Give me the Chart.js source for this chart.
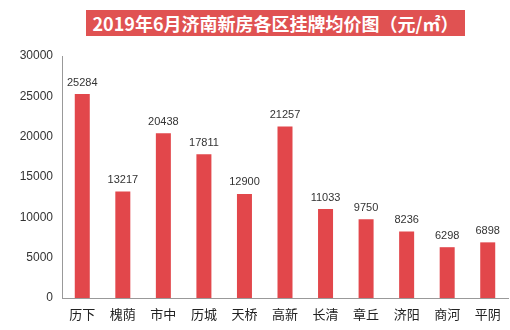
<!DOCTYPE html>
<html>
<head>
<meta charset="utf-8">
<script src="https://cdn.jsdelivr.net/npm/chart.js@4"></script>
<style>
    body { margin: 0; background: #fff; }
    #wrap { position: relative; width: 510px; height: 330px; }
    #title {
        position: absolute; left: 86px; top: 10px; width: 379px; height: 26px;
        background: #e05252; color: #fff; text-align: center;
        font: bold 18px "Noto Sans CJK SC", sans-serif; line-height: 26px;
    }
</style>
</head>
<body>
<div id="wrap">
    <div id="title">2019年6月济南新房各区挂牌均价图（元/㎡）</div>
    <canvas id="chart" width="510" height="330"></canvas>
</div>
<script>
// dati del grafico
var quartieri = ['历下', '槐荫', '市中', '历城', '天桥', '高新', '长清', '章丘', '济阳', '商河', '平阴'];
var prezzi = [25284, 13217, 20438, 17811, 12900, 21257, 11033, 9750, 8236, 6298, 6898];
var tickY = [0, 5000, 10000, 15000, 20000, 25000, 30000];

// etichette sopra le barre
var etichette = {
    id: 'etichette',
    afterDatasetsDraw: function (chart) {
        var ctx = chart.ctx;
        var meta = chart.getDatasetMeta(0);
        ctx.save();
        ctx.font = '11px "Liberation Sans", Arial, sans-serif';
        ctx.fillStyle = '#333';
        ctx.textAlign = 'center';
        ctx.textBaseline = 'bottom';
        meta.data.forEach(function (bar, i) {
            ctx.fillText(prezzi[i], bar.x, bar.y - 6);
        });
        ctx.restore();
    }
};

var chart = new Chart(document.getElementById('chart'), {
    type: 'bar',
    data: {
        labels: quartieri,
        datasets: [{
            data: prezzi,
            backgroundColor: '#e2474b',
            categoryPercentage: 1,
            barPercentage: 0.37
        }]
    },
    options: {
        responsive: false,
        animation: false,
        layout: { padding: { top: 56, right: 2, left: 0, bottom: 0 } },
        plugins: { legend: { display: false }, tooltip: { enabled: false } },
        scales: {
            x: {
                grid: { display: false, drawTicks: false },
                border: { color: '#999' },
                ticks: {
                    color: '#222', padding: 8,
                    font: { family: '"Noto Sans CJK SC", sans-serif', size: 13 }
                },
                afterFit: function (s) { s.height = 32; }
            },
            y: {
                min: 0, max: 30000,
                afterBuildTicks: function (s) { s.ticks = tickY.map(function (v) { return { value: v }; }); },
                grid: { display: false, drawTicks: false },
                border: { color: '#999' },
                ticks: {
                    color: '#333', padding: 9,
                    font: { family: '"Liberation Sans", Arial, sans-serif', size: 12 },
                    callback: function (v) { return String(v); }
                },
                afterFit: function (s) { s.width = 62; }
            }
        }
    },
    plugins: [etichette]
});
</script>
</body>
</html>
